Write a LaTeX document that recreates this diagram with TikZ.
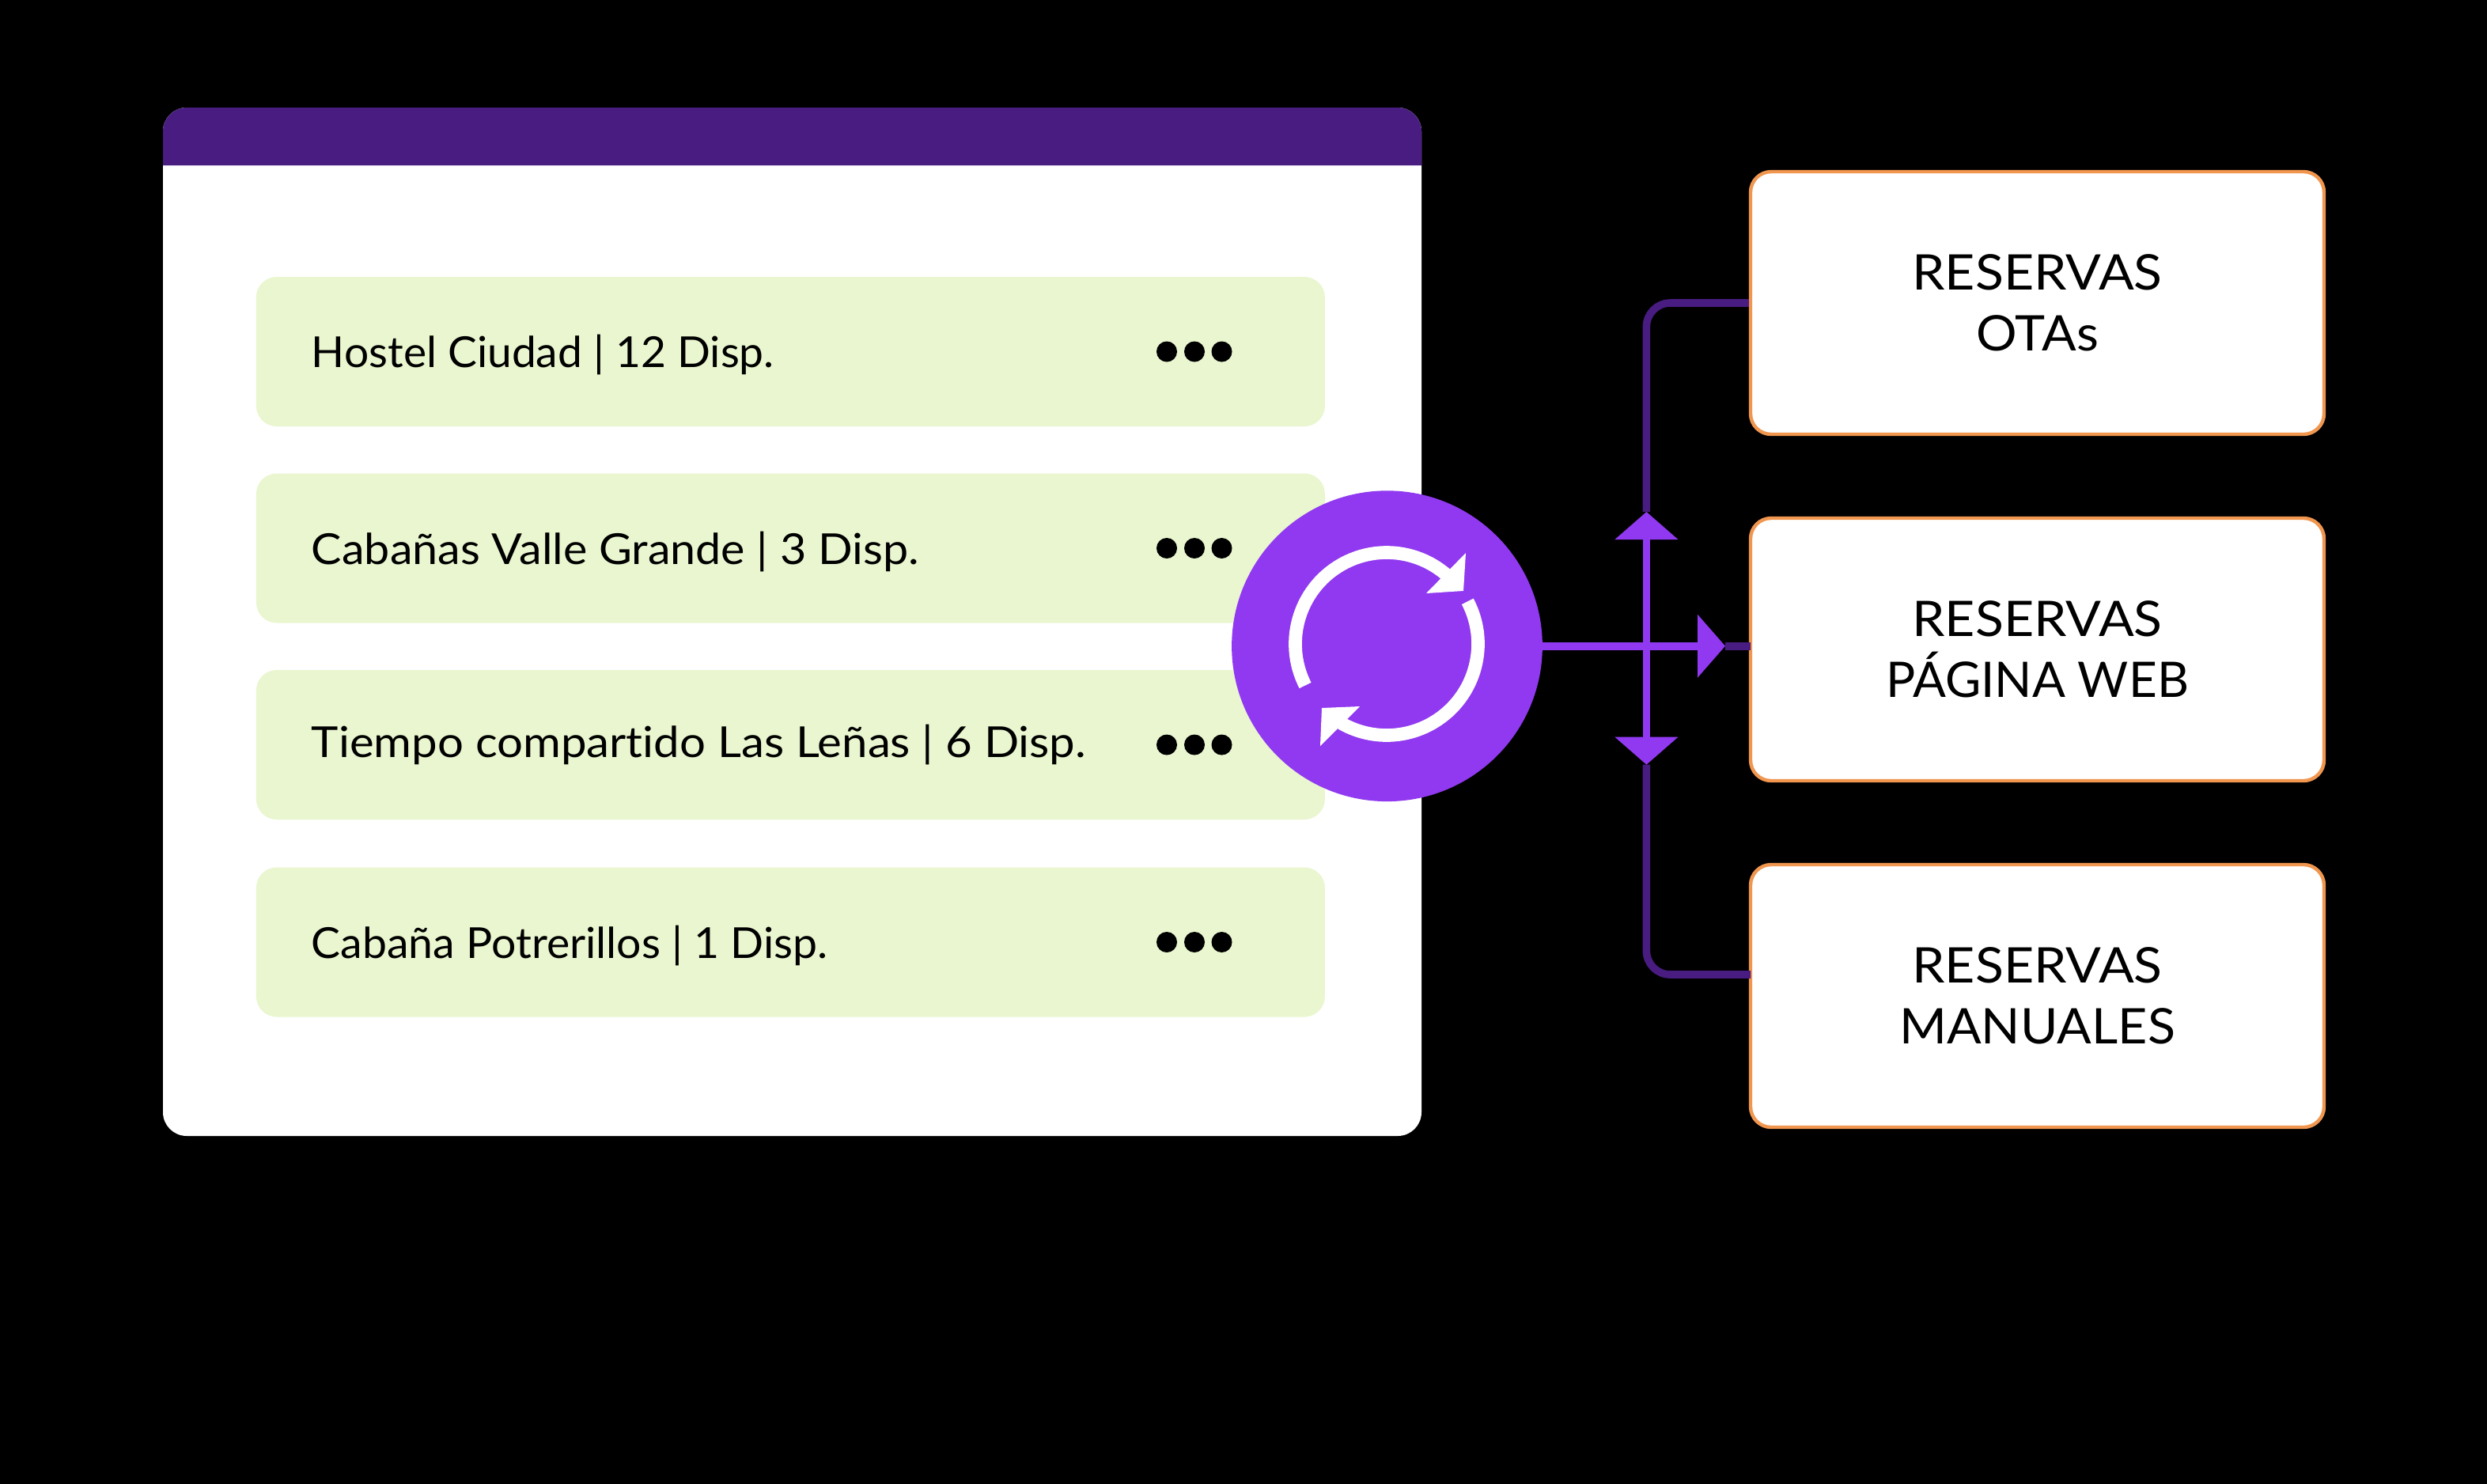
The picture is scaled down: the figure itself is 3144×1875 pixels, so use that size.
\documentclass[tikz,border=0pt]{standalone}
\usepackage{fontspec}
\usepackage{graphicx}
\setmainfont{Lato}[Ligatures=NoCommon]
\usetikzlibrary{arrows.meta}
\definecolor{deep}{HTML}{481C80}
\definecolor{vivid}{HTML}{9039F0}
\definecolor{leaf}{HTML}{E9F6CF}
\definecolor{amber}{HTML}{F0964F}
\newcommand{\wideby}[2]{\scalebox{#1}[1]{#2}}
\tikzset{
  x=0.5pt,y=0.5pt,
  rowbox/.style={fill=leaf,rounded corners=13pt,minimum width=675.5pt,minimum height=94.5pt,inner sep=0,anchor=west},
  rowtext/.style={font=\fontsize{27}{32}\selectfont,anchor=base west,inner sep=0,text=black},
  dotmark/.style={circle,fill=black,minimum size=13pt,inner sep=0},
  destbox/.style={draw=amber,line width=2.2pt,fill=white,rounded corners=13pt,minimum width=362.5pt,minimum height=166pt,inner sep=0,align=center,font=\fontsize{31}{38.25}\selectfont,text=black},
  deepline/.style={draw=deep,line width=4.8pt},
  vividline/.style={draw=vivid,line width=4.8pt},
  vtip/.style={-{Triangle[length=17.5pt,width=39pt]}},
}
\begin{document}
\begin{tikzpicture}
\useasboundingbox (0,0) rectangle (3144,-1875);
\fill[black] (-10,10) rectangle (3154,-1885);
% window
\fill[white,rounded corners=15pt] (206,-136) rectangle (1797,-1436);
\fill[deep] (206,-209) [rounded corners=15pt] -- (206,-136) -- (1797,-136) [sharp corners] -- (1797,-209) -- cycle;
% rows
\foreach \n/\y/\ty/\dy/\sx/\lab in {
  1/444.5/464/444.5/1.021/{Hostel Ciudad | 12 Disp.},
  2/693/713/693/1.064/{Cabañas Valle Grande | 3 Disp.},
  3/941.5/957/941.5/1.077/{Tiempo compartido Las Leñas | 6 Disp.},
  4/1191/1211/1191/1.025/{Cabaña Potrerillos | 1 Disp.}}{
  \node[rowbox] (row\n) at (323.5,-\y) {};
  \node[rowtext] (rowlabel\n) at (393.5,-\ty) {\wideby{\sx}{\lab}};
  \node[dotmark] (dota\n) at (1475,-\dy) {};
  \node[dotmark] (dotb\n) at (1510,-\dy) {};
  \node[dotmark] (dotc\n) at (1544.5,-\dy) {};
}
% destination boxes
\node[destbox] (ota) at (2575.5,-383) {\wideby{1.068}{RESERVAS}\\\wideby{1.04}{OTAs}};
\node[destbox] (web) at (2575.5,-821) {\wideby{1.068}{RESERVAS}\\PÁGINA WEB};
\node[destbox] (man) at (2575.5,-1259) {\wideby{1.068}{RESERVAS}\\\wideby{1.042}{MANUALES}};
% hub
\node[circle,fill=vivid,minimum size=196.4pt,inner sep=0] (hub) at (1753.5,-816.7) {};
\coordinate (ic) at (1753,-814);
\draw[white,line width=8.35pt] ([shift={(ic)}]207:57.75pt) arc[start angle=207,end angle=48,radius=57.75pt];
\draw[white,line width=8.35pt] ([shift={(ic)}]27.7:57.75pt) arc[start angle=27.7,end angle=-120,radius=57.75pt];
\fill[white] (1853,-699) -- (1850,-747) -- (1803,-750) -- cycle;
\fill[white] (1719,-893) -- (1671,-895) -- (1669,-943) -- cycle;
% connectors
\coordinate (junction) at (2081.4,-816.7);
\coordinate (hubout) at (1949,-816.7);
\coordinate (webtip) at (2181,-816.7);
\coordinate (upapex) at (2081.4,-647);
\coordinate (downapex) at (2081.4,-966.7);
\coordinate (webin) at (2213,-816.7);
\coordinate (manin) at (2213,-1232);
\draw[deepline] (webtip) -- (webin);
\draw[deepline,rounded corners=15pt] (upapex) -- (junction |- ota.west) -- (ota.west);
\draw[deepline,rounded corners=15pt] (downapex) -- (junction |- manin) -- (manin);
\draw[vividline,vtip] (junction) -- (upapex);
\draw[vividline,vtip] (junction) -- (downapex);
\draw[vividline,vtip] (hubout) -- (webtip);
\end{tikzpicture}
\end{document}
